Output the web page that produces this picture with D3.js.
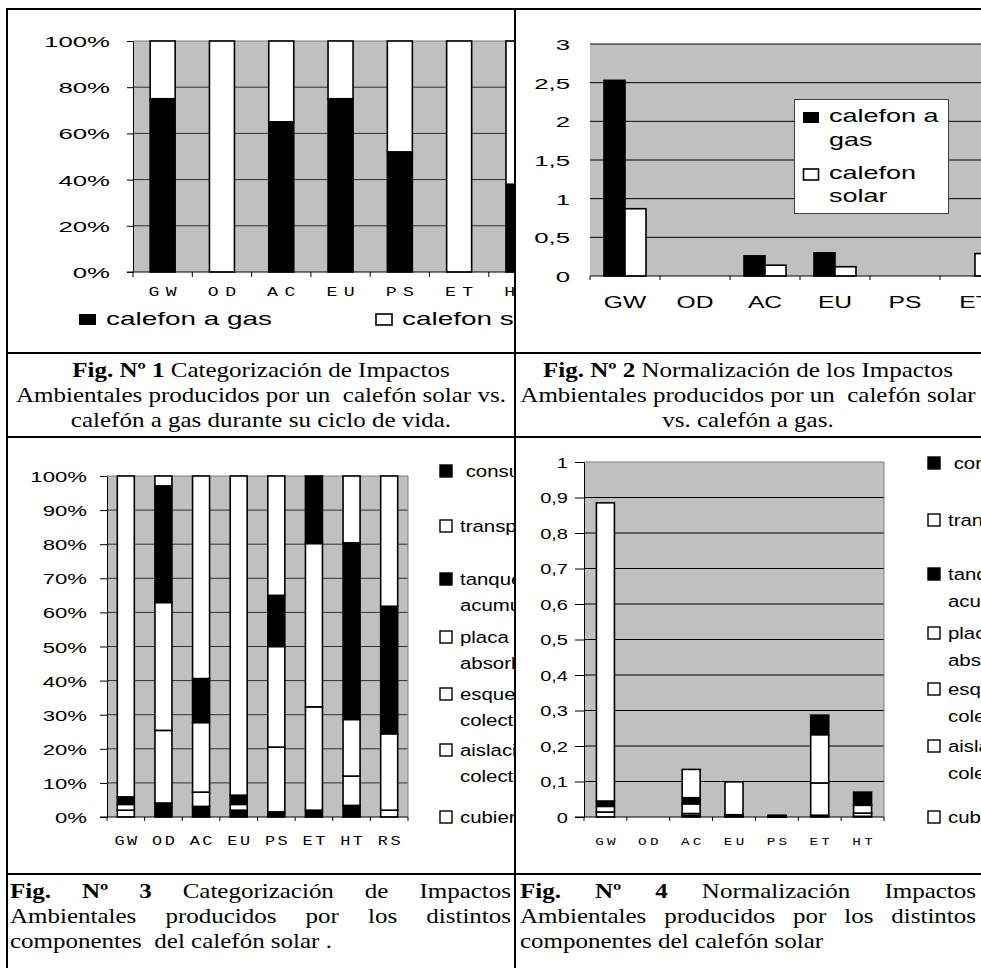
<!DOCTYPE html>
<html><head><meta charset="utf-8">
<script src="https://cdn.jsdelivr.net/npm/d3@7/dist/d3.min.js"></script>
<style>html,body{margin:0;padding:0;background:#fff;overflow:hidden}svg{display:block}</style>
</head><body>
<svg id="chart" width="981" height="968"></svg>
<script>
// ---------------- DATA ----------------
const categories = ["GW","OD","AC","EU","PS","ET","HT"];
const categoriesFig3 = ["GW","OD","AC","EU","PS","ET","HT","RS"];
const seriesNames = ["calefon a gas","calefon solar"];

// Fig 1 - share of each heater (%)
const gasShare   = [75, 0, 65, 75, 52, 0, 38];
const solarShare = [25, 100, 35, 25, 48, 100, 62];

// Fig 2 - normalized impacts
const gasNormalized   = [2.53, 0, 0.26, 0.30, 0, 0, 0.045];
const solarNormalized = [0.87, 0, 0.14, 0.12, 0, 0.29, 0.07];

// Components (stack order, bottom -> top)
const components = ["consumo","cubierta","aislación colector","esqueleto colector","placa absorbedora","tanque acumulador","transporte"];
const componentFills = ["#000","#fff","#fff","#fff","#fff","#000","#fff"];

// Fig 3 - share per component (%)      GW    OD    AC    EU    PS    ET    HT    RS
const consumoPct    = [0,   4.1,  3.1,  2.0,  1.5,  2.0,  3.4,  0];
const cubiertaPct   = [2.0, 21.3, 4.2,  1.7,  19.0, 30.3, 8.6,  2.0];
const aislacionPct  = [1.7, 37.5, 20.4, 0,    29.5, 47.9, 16.6, 22.4];
const esqueletoPct  = [0,   0,    0,    0,    0,    0,    0,    0];
const placaPct      = [0,   0,    0,    0,    0,    0,    0,    0];
const tanquePct     = [2.2, 34.2, 12.9, 2.7,  15.0, 19.8, 51.8, 37.4];
const transportePct = [94.1,2.9,  59.4, 93.6, 35.0, 0,    19.6, 38.2];

// Fig 4 - normalized per component     GW     OD  AC      EU      PS      ET     HT
const consumoNorm    = [0,     0,  0.0042, 0.0020, 0.0001, 0.005, 0.002];
const cubiertaNorm   = [0.014, 0,  0.0056, 0.0017, 0.0010, 0.091, 0.009];
const aislacionNorm  = [0.016, 0,  0.0273, 0,      0.0015, 0.136, 0.022];
const esqueletoNorm  = [0,     0,  0,      0,      0,      0,     0];
const placaNorm      = [0,     0,  0,      0,      0,      0,     0];
const tanqueNorm     = [0.015, 0,  0.0173, 0.0027, 0.0007, 0.055, 0.037];
const transporteNorm = [0.840, 0,  0.0796, 0.0926, 0.0017, 0,     0];

// Legend (display order, top -> bottom)
const legendLabels = [[" consumo"],["transporte"],["tanque","acumulador"],["placa","absorbedora"],["esqueleto","colector"],["aislación","colector"],["cubierta"]];
const legendFills  = ["#000","#fff","#000","#fff","#fff","#fff","#fff"];

// Tick values
const pctTicksFig1  = [0,20,40,60,80,100];
const normTicksFig2 = [0,0.5,1,1.5,2,2.5,3];
const pctTicksFig3  = [0,10,20,30,40,50,60,70,80,90,100];
const normTicksFig4 = [0,0.1,0.2,0.3,0.4,0.5,0.6,0.7,0.8,0.9,1];

// Captions
const fig1Caption = [[["Fig. Nº 1",1],[" Categorización de Impactos",0]],[["Ambientales producidos por un  calefón solar vs.",0]],[["calefón a gas durante su ciclo de vida.",0]]];
const fig2Caption = [[["Fig. Nº 2",1],[" Normalización de los Impactos",0]],[["Ambientales producidos por un  calefón solar",0]],[["vs. calefón a gas.",0]]];
const fig3Justified = [[["Fig.",1],["Nº",1],["3",1],["Categorización",0],["de",0],["Impactos",0]],[["Ambientales",0],["producidos",0],["por",0],["los",0],["distintos",0]]];
const fig3Last = "componentes  del calefón solar .";
const fig4Justified = [[["Fig.",1],["Nº",1],["4",1],["Normalización",0],["Impactos",0]],[["Ambientales",0],["producidos",0],["por",0],["los",0],["distintos",0]]];
const fig4Last = "componentes del calefón solar";

// ---------------- DRAWING ----------------
const SANS = "Arial, 'Liberation Sans', sans-serif";
const MONO = "'Courier New', 'Liberation Mono', monospace";
const SERIF = "'Times New Roman', 'Liberation Serif', serif";
const GRAY = "#c0c0c0";
const commaFmt = v => String(v).replace(".", ",");

const svg = d3.select("#chart");
const defs = svg.append("defs");
defs.append("clipPath").attr("id","clipL").append("rect").attr("x",8).attr("y",10).attr("width",506).attr("height",958);
defs.append("clipPath").attr("id","clipR").append("rect").attr("x",516).attr("y",10).attr("width",465).attr("height",958);
const gL = svg.append("g").attr("clip-path","url(#clipL)");
const gR = svg.append("g").attr("clip-path","url(#clipR)");

function txt(g, x, y, s, o) {
  const t = g.append("text")
    .attr("transform", `translate(${x},${y}) scale(${o.sx||1},1)`)
    .attr("font-family", o.ff || SANS)
    .attr("font-size", o.fs)
    .attr("text-anchor", o.anchor || "start")
    .attr("fill", "#000")
    .style("white-space", "pre")
    .text(s);
  if (o.ls) t.attr("letter-spacing", o.ls);
  if (o.fw) t.attr("font-weight", o.fw);
  if (o.limit) {
    // keep only the characters that start inside the cell (the rest is hidden by the cell edge)
    let str = s;
    while (str.length > 1) {
      t.text(str.slice(0, -1));
      const w = t.node().getComputedTextLength() * (o.sx || 1);
      if (x + w >= o.limit) str = str.slice(0, -1); else break;
    }
    t.text(str);
  }
  return t;
}
function monoLabel(g, cx, y, s, fs, sx, ls) {
  txt(g, cx + ls*sx/2, y, s, {ff: MONO, fs, sx, ls, anchor: "middle"});
}
function leftAxis(g, y, x0, ticks, fmt, o) {
  const ax = d3.axisLeft(y).tickValues(ticks).tickFormat(fmt).tickSize(o.tick).tickSizeOuter(0).tickPadding(0);
  const a = g.append("g").attr("transform", `translate(${x0},0)`).call(ax);
  a.attr("font-family", SANS).attr("font-size", o.fs).attr("color", "#000");
  if (!o.domain) a.select(".domain").remove();
  if (o.tick === 0) a.selectAll(".tick line").remove();
  a.selectAll(".tick text").attr("x", -o.gap / o.sx).attr("dy", "0.36em").attr("transform", `scale(${o.sx},1)`);
  return a;
}
function plotBg(g, x, y, ticks, gridColor, topColor, rightColor) {
  const [x0, x1] = x.range();
  const [yb, yt] = y.range();
  g.append("rect").attr("x", x0).attr("y", yt).attr("width", x1 - x0).attr("height", yb - yt).attr("fill", GRAY);
  g.selectAll(null).data(ticks.slice(1, -1)).join("line")
    .attr("x1", x0).attr("x2", x1).attr("y1", d => y(d)).attr("y2", d => y(d))
    .attr("stroke", gridColor).attr("stroke-width", 1);
  g.append("line").attr("x1", x0).attr("x2", x1).attr("y1", yt).attr("y2", yt).attr("stroke", topColor);
  if (rightColor) g.append("line").attr("x1", x1).attr("x2", x1).attr("y1", yt).attr("y2", yb).attr("stroke", rightColor);
}
function bottomAxis(g, x, y0, xStart, tickLen) {
  const [x0, x1] = x.range();
  g.append("line").attr("x1", xStart).attr("x2", x1).attr("y1", y0).attr("y2", y0).attr("stroke", "#000").attr("stroke-width", 1.2);
  const bounds = x.domain().map(d => x(d)).concat([x1]);
  g.selectAll(null).data(bounds).join("line")
    .attr("x1", d => d).attr("x2", d => d).attr("y1", y0).attr("y2", y0 + tickLen)
    .attr("stroke", "#000");
}
function stackedBars(g, x, y, cats, keys, rows, fills, barW) {
  const st = d3.stack().keys(keys)(rows);
  st.forEach((s, si) => {
    g.selectAll(null).data(s.filter(d => d[1] - d[0] > 0)).join("rect")
      .attr("x", d => x(d.data.cat) + (x.step() - barW) / 2)
      .attr("width", barW)
      .attr("y", d => y(d[1]))
      .attr("height", d => y(d[0]) - y(d[1]))
      .attr("fill", fills[si]).attr("stroke", "#000").attr("stroke-width", 1.6);
  });
}

// ---------- Fig 1 ----------
{
  const g = gL.append("g");
  const x = d3.scaleBand().domain(categories).range([133, 133 + categories.length * 59.3]);
  const y = d3.scaleLinear().domain([0, 100]).range([272, 41]);
  plotBg(g, x, y, pctTicksFig1, "#303030", "#808080", null);
  const rows = categories.map((c, i) => ({cat: c, gas: gasShare[i], solar: solarShare[i]}));
  stackedBars(g, x, y, categories, ["gas", "solar"], rows, ["#000", "#fff"], 25);
  leftAxis(g, y, 133, pctTicksFig1, d => d + "%", {tick: 6, gap: 23, fs: 15, sx: 1.72, domain: true});
  bottomAxis(g, x, 272, 127, 5);
  categories.forEach(c => monoLabel(g, x(c) + x.step() / 2, 296, c, 13, 1.4, 4.6));
  g.append("rect").attr("x", 79).attr("y", 314).attr("width", 17).attr("height", 11).attr("fill", "#000");
  txt(g, 106, 325, seriesNames[0], {fs: 18, sx: 1.55});
  g.append("rect").attr("x", 376).attr("y", 314).attr("width", 16).attr("height", 11).attr("fill", "#fff").attr("stroke", "#000").attr("stroke-width", 1.6);
  txt(g, 402, 325, seriesNames[1], {fs: 18, sx: 1.55, limit: 514});
}

// ---------- Fig 2 ----------
{
  const g = gR.append("g");
  const x = d3.scaleBand().domain(categories).range([590, 590 + categories.length * 70]);
  const xs = d3.scaleBand().domain(["gas", "solar"]).range([14, 56]);
  const y = d3.scaleLinear().domain([0, 3]).range([276, 44]);
  plotBg(g, x, y, normTicksFig2, "#000", "#000", null);
  const rows = categories.map((c, i) => ({cat: c, gas: gasNormalized[i], solar: solarNormalized[i]}));
  ["gas", "solar"].forEach((k, si) => {
    g.selectAll(null).data(rows.filter(r => r[k] > 0)).join("rect")
      .attr("x", r => x(r.cat) + xs(k)).attr("width", xs.bandwidth())
      .attr("y", r => y(r[k])).attr("height", r => y(0) - y(r[k]))
      .attr("fill", si ? "#fff" : "#000").attr("stroke", "#000").attr("stroke-width", 1.6);
  });
  leftAxis(g, y, 590, normTicksFig2, commaFmt, {tick: 0, gap: 20, fs: 15, sx: 1.72, domain: false});
  bottomAxis(g, x, 276, 590, 4);
  categories.forEach(c => {
    const cx = x(c) + x.step() / 2;
    if (cx - 20 < 981) txt(g, cx, 308, c, {fs: 17, sx: 1.45, anchor: "middle"});
  });
  g.append("rect").attr("x", 794.5).attr("y", 99.5).attr("width", 154).attr("height", 114).attr("fill", "#fff").attr("stroke", "#404040");
  g.append("rect").attr("x", 803).attr("y", 112).attr("width", 16).attr("height", 11).attr("fill", "#000");
  txt(g, 829, 122, "calefon a", {fs: 18, sx: 1.5});
  txt(g, 829, 146, "gas", {fs: 18, sx: 1.5});
  g.append("rect").attr("x", 803.5).attr("y", 169).attr("width", 15).attr("height", 11).attr("fill", "#fff").attr("stroke", "#000").attr("stroke-width", 1.6);
  txt(g, 829, 179, "calefon", {fs: 18, sx: 1.5});
  txt(g, 829, 202, "solar", {fs: 18, sx: 1.5});
}

function componentLegend(g, xSq, xTxt, firstCenters, lineGap, limit) {
  legendLabels.forEach((lines, i) => {
    const cy = firstCenters[i];
    g.append("rect").attr("x", xSq).attr("y", cy - 6).attr("width", 12).attr("height", 12)
      .attr("fill", legendFills[i]).attr("stroke", "#000").attr("stroke-width", 1.4);
    lines.forEach((l, j) => txt(g, xTxt, cy + 6 + j * lineGap, l, {fs: 17, sx: 1.2, limit}));
  });
}

// ---------- Fig 3 ----------
{
  const g = gL.append("g");
  const x = d3.scaleBand().domain(categoriesFig3).range([107, 408]);
  const y = d3.scaleLinear().domain([0, 100]).range([817, 476]);
  plotBg(g, x, y, pctTicksFig3, "#303030", "#808080", "#808080");
  const arrs = [consumoPct, cubiertaPct, aislacionPct, esqueletoPct, placaPct, tanquePct, transportePct];
  const rows = categoriesFig3.map((c, i) => {
    const r = {cat: c};
    components.forEach((k, ki) => r[k] = arrs[ki][i]);
    return r;
  });
  stackedBars(g, x, y, categoriesFig3, components, rows, componentFills, 17);
  leftAxis(g, y, 107, pctTicksFig3, d => d + "%", {tick: 7, gap: 20, fs: 15.5, sx: 1.43, domain: true});
  bottomAxis(g, x, 817, 100, 4);
  categoriesFig3.forEach(c => monoLabel(g, x(c) + x.step() / 2, 845, c, 12.5, 1.35, 1.8));
  componentLegend(g, 440, 460, [471, 526, 579, 637, 694, 750, 817], 26, 514);
}

// ---------- Fig 4 ----------
{
  const g = gR.append("g");
  const x = d3.scaleBand().domain(categories).range([584, 884]);
  const y = d3.scaleLinear().domain([0, 1]).range([817, 462]);
  plotBg(g, x, y, normTicksFig4, "#000", "#808080", "#808080");
  const arrs = [consumoNorm, cubiertaNorm, aislacionNorm, esqueletoNorm, placaNorm, tanqueNorm, transporteNorm];
  const rows = categories.map((c, i) => {
    const r = {cat: c};
    components.forEach((k, ki) => r[k] = arrs[ki][i]);
    return r;
  });
  stackedBars(g, x, y, categories, components, rows, componentFills, 18);
  leftAxis(g, y, 584, normTicksFig4, commaFmt, {tick: 9, gap: 16, fs: 14.5, sx: 1.38, domain: true});
  bottomAxis(g, x, 817, 575, 4);
  categories.forEach(c => monoLabel(g, x(c) + x.step() / 2, 845, c, 11, 1.3, 2.5));
  componentLegend(g, 928, 948, [463, 520, 574, 633, 689, 746, 817], 27, 981);
}

// ---------- Captions ----------
const CFS = 21, CSX = 1.19;
function measure(parts) {
  const t = svg.append("text").attr("font-family", SERIF).attr("font-size", CFS).style("white-space", "pre");
  parts.forEach(p => t.append("tspan").attr("font-weight", p[1] ? "bold" : "normal").text(p[0]));
  const w = t.node().getComputedTextLength();
  t.remove();
  return w;
}
function captionLine(x, y, parts) {
  const t = svg.append("text").attr("transform", `translate(${x},${y}) scale(${CSX},1)`)
    .attr("font-family", SERIF).attr("font-size", CFS).style("white-space", "pre");
  parts.forEach(p => t.append("tspan").attr("font-weight", p[1] ? "bold" : "normal").text(p[0]));
}
function captionCentered(cx, y, parts) {
  const w = measure(parts) * CSX;
  captionLine(cx - w / 2, y, parts);
}
function captionJustified(x0, x1, y, words) {
  const ws = words.map(w => measure([w]) * CSX);
  const gap = (x1 - x0 - d3.sum(ws)) / (words.length - 1);
  let x = x0;
  words.forEach((w, i) => { captionLine(x, y, [w]); x += ws[i] + gap; });
}
fig1Caption.forEach((l, i) => captionCentered(261, 377 + i * 25, l));
fig2Caption.forEach((l, i) => captionCentered(748, 377 + i * 25, l));
fig3Justified.forEach((l, i) => captionJustified(10, 511, 898 + i * 25, l));
captionLine(10, 948, [[fig3Last, 0]]);
fig4Justified.forEach((l, i) => captionJustified(520, 976, 898 + i * 25, l));
captionLine(520, 948, [[fig4Last, 0]]);

// ---------- Table frame ----------
const frame = svg.append("g").attr("stroke", "#000").attr("stroke-width", 2);
frame.append("line").attr("x1", 6).attr("x2", 981).attr("y1", 9).attr("y2", 9);
[353, 437, 874].forEach(yy => frame.append("line").attr("x1", 6).attr("x2", 981).attr("y1", yy).attr("y2", yy));
frame.append("line").attr("x1", 7).attr("x2", 7).attr("y1", 8).attr("y2", 968);
frame.append("line").attr("x1", 515).attr("x2", 515).attr("y1", 8).attr("y2", 968);
</script>
</body></html>
